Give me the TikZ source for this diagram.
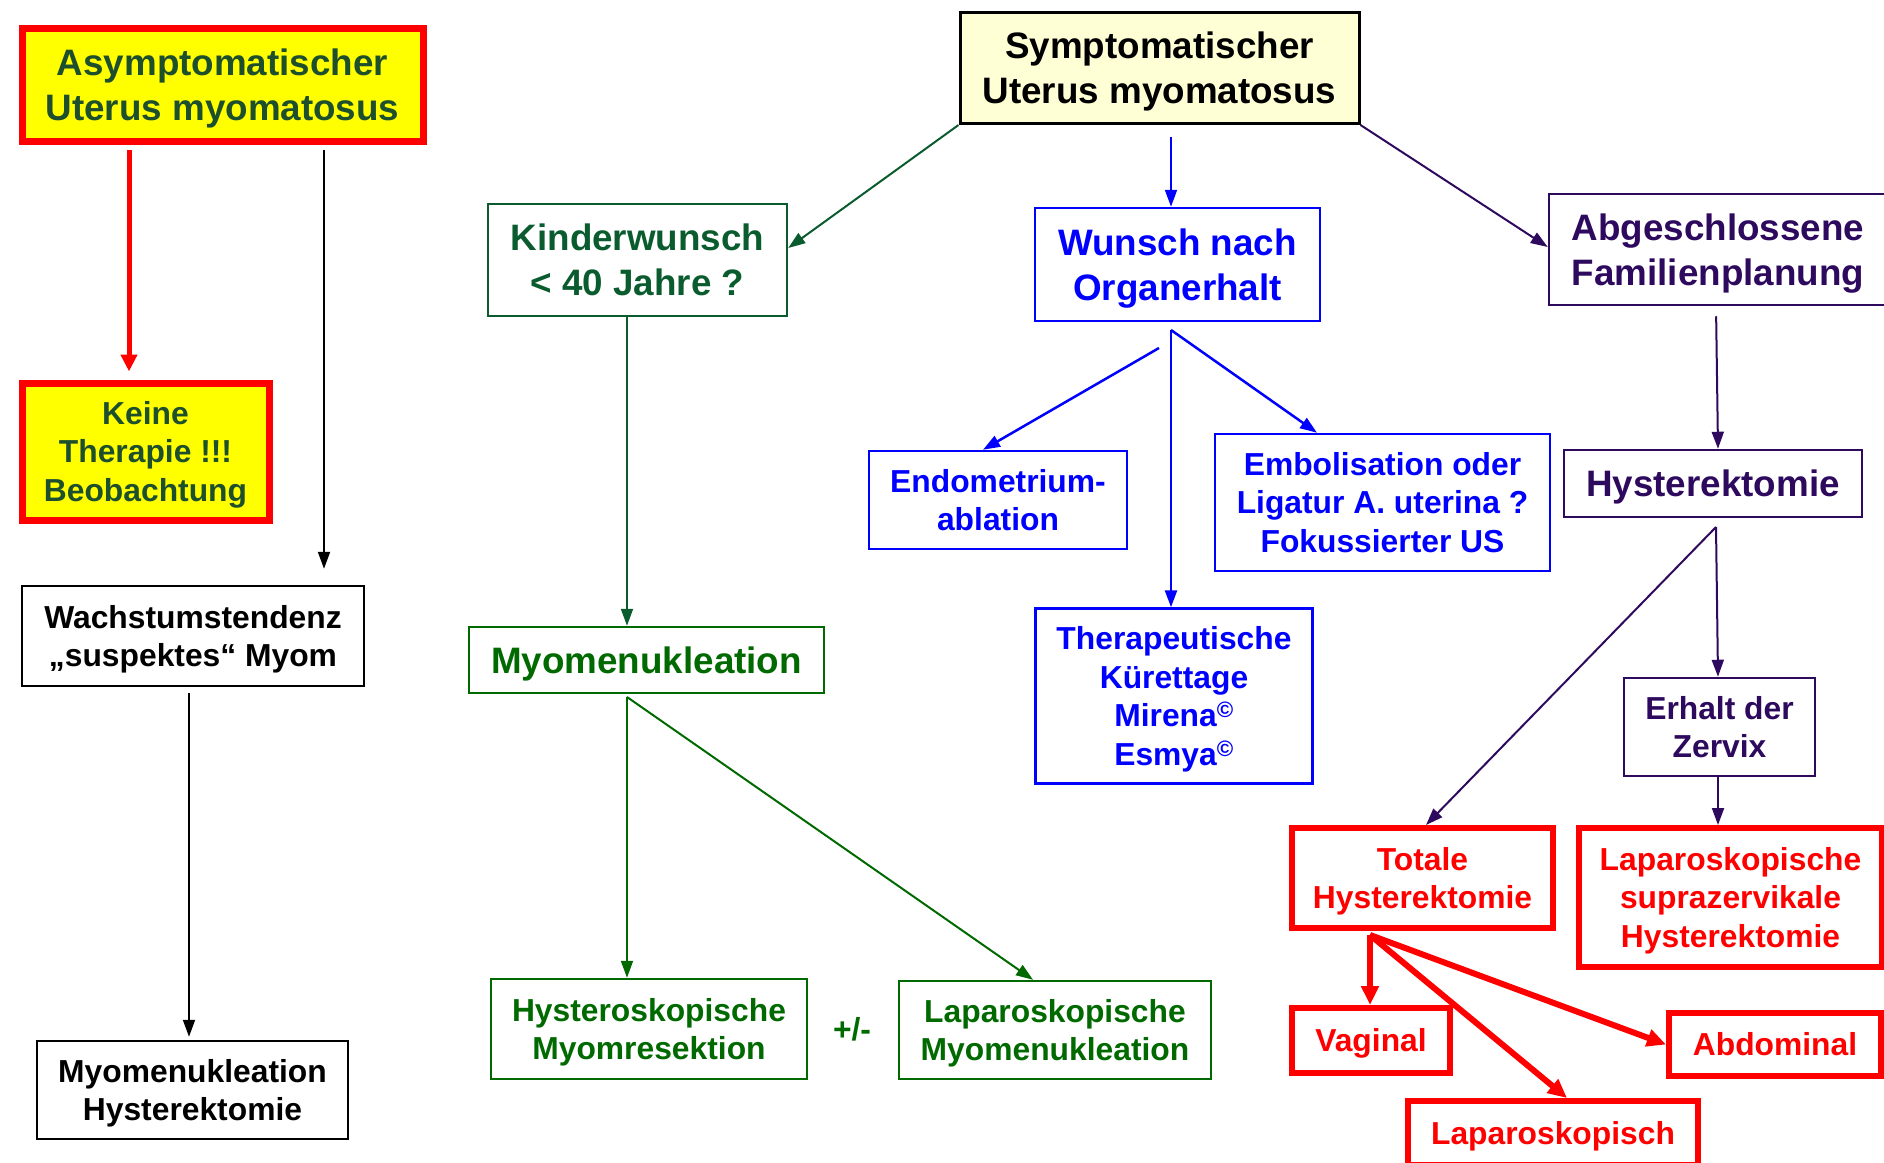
\documentclass[tikz,border=0pt]{standalone}
\usepackage{fontspec}
\setmainfont{Liberation Sans}
\usetikzlibrary{arrows.meta}
\definecolor{myred}{HTML}{FF0000}
\definecolor{myyellow}{HTML}{FFFF00}
\definecolor{asymgreen}{HTML}{1D4F2C}
\definecolor{kgreen}{HTML}{0A5C2E}
\definecolor{mgreen}{HTML}{006A00}
\definecolor{myblue}{HTML}{0000FF}
\definecolor{mypurple}{HTML}{2E0A5E}
\definecolor{lightyel}{HTML}{FFFFD5}
\newcommand\bigtxt{\fontsize{36.8}{45}\selectfont\bfseries}
\newcommand\smalltxt{\fontsize{31.8}{38.5}\selectfont\bfseries}
\newcommand\T{\rule{0pt}{0.93em}}
\newcommand\botstrut{\rule[-0.212em]{0pt}{0.212em}}
\tikzset{
  box/.style={draw, inner sep=0pt, align=center, font=\bigtxt, line width=2.5pt,
    execute at end node=\botstrut},
  smallbox/.style={box, font=\smalltxt},
  redbox/.style={smallbox, draw=myred, text=myred, line width=6pt},
  yelbox/.style={draw=myred, line width=7pt, fill=myyellow, text=asymgreen},
  greenA/.style={draw=kgreen, text=kgreen},
  greenB/.style={draw=mgreen, text=mgreen},
  bluebox/.style={draw=myblue, text=myblue},
  purplebox/.style={draw=mypurple, text=mypurple},
  arr/.style={-{Triangle[length=17pt,width=12pt]}, line width=2pt},
  thickarr/.style={-{Triangle[length=19pt,width=17pt]}, line width=6pt, draw=myred},
  mw/.style={minimum width=#1pt},
  mh/.style={minimum height=#1pt}
}
\begin{document}
\begin{tikzpicture}[x=1pt, y=-1pt]
\useasboundingbox (0,0) rectangle (1884,1162);

% left column
\node[box, yelbox, mw=401, mh=113] (asym) at (222.5,84.5) {\T Asymptomatischer\\Uterus myomatosus};
\node[smallbox, yelbox, mw=247, mh=137] (keine) at (145.5,451.5) {\T Keine\\Therapie !!!\\Beobachtung};
\node[smallbox, draw=black, mw=342, mh=100] (wachs) at (193,636) {\T Wachstumstendenz\\„suspektes“ Myom};
\node[smallbox, draw=black, mw=311, mh=98] (myhy) at (192.5,1090) {\T Myomenukleation\\Hysterektomie};

\coordinate (a1) at (129,150);
\draw[-{Triangle[length=17pt,width=16pt]}, line width=5pt, draw=myred, shorten >=8pt] (a1) -- (a1 |- keine.north);
\coordinate (a2) at (324,150);
\draw[arr, shorten >=16pt] (a2) -- (a2 |- wachs.north);
\coordinate (a3) at (189,693);
\draw[arr, shorten >=3pt] (a3) -- (a3 |- myhy.north);

% top
\node[box, draw=black, line width=3pt, fill=lightyel, mw=399, mh=111] (symp) at (1159.5,68) {\T Symptomatischer\\Uterus myomatosus};

% green branch
\node[box, greenA, mw=299, mh=112] (kinder) at (637.5,260) {\T Kinderwunsch\\< 40 Jahre ?};
\node[box, greenB, mw=355, mh=66] (myom) at (646.5,660) {\T Myomenukleation};
\node[smallbox, greenB, mw=316, mh=100] (hyst) at (649,1029) {\T Hysteroskopische\\Myomresektion};
\node[text=mgreen, font=\smalltxt, inner sep=0pt] (pm) at (852,1029) {+/-};
\node[smallbox, greenB, mw=312, mh=98] (lapm) at (1055,1030) {\T Laparoskopische\\Myomenukleation};

\draw[arr, kgreen] (symp.south west) -- ([yshift=12pt]kinder.east);
\draw[arr, kgreen] ([xshift=-10.5pt]kinder.south) -- ([xshift=-19.5pt]myom.north);
\coordinate (m0) at (627,697);
\draw[arr, mgreen] (m0) -- (m0 |- hyst.north);
\draw[arr, mgreen] (m0) -- ([xshift=-22pt]lapm.north);

% blue branch
\node[box, bluebox, mw=285, mh=113] (wunsch) at (1177.5,264.5) {\T Wunsch nach\\Organerhalt};
\node[smallbox, bluebox, mw=258, mh=98] (endo) at (998,500) {\T Endometrium-\\ablation};
\node[smallbox, bluebox, mw=335, mh=137] (embo) at (1382.5,502.5) {\T Embolisation oder\\Ligatur A. uterina ?\\Fokussierter US};
\node[smallbox, bluebox, mw=277, mh=175] (thera) at (1174,696) {\T Therapeutische\\Kürettage\\Mirena\textsuperscript{©}\\Esmya\textsuperscript{©}};

\draw[arr, myblue, shorten <=12pt] ([xshift=11.5pt]symp.south) -- ([xshift=-6.5pt]wunsch.north);
\coordinate (b0) at (1171,330);
\coordinate (b1) at (1159,348);
\draw[arr, myblue, line width=2.5pt] (b1) -- ([xshift=-15pt]endo.north);
\draw[arr, myblue, line width=2.5pt] (b0) -- (b0 |- thera.north);
\draw[arr, myblue, line width=2.5pt] (b0) -- ([xshift=-65.5pt]embo.north);

% purple branch and red results
\node[box, purplebox, mw=338, mh=111] (abge) at (1718,249.5) {\T Abgeschlossene\\Familienplanung};
\node[box, purplebox, mw=298, mh=67] (hyster) at (1713,483.5) {\T Hysterektomie};
\node[smallbox, purplebox, mw=191, mh=98] (erhalt) at (1719.5,727) {\T Erhalt der\\Zervix};
\node[redbox, mw=261, mh=100] (totale) at (1422.5,878) {\T Totale\\Hysterektomie};
\node[redbox, mw=303, mh=139] (supra) at (1730.5,897.5) {\T Laparoskopische\\suprazervikale\\Hysterektomie};
\node[redbox, mw=158, mh=65] (vag) at (1371,1040.5) {\T Vaginal};
\node[redbox, mw=290, mh=64] (lapa) at (1553,1133) {\T Laparoskopisch};
\node[redbox, mw=212, mh=63] (abdo) at (1775,1044.5) {\T Abdominal};

\draw[arr, mypurple] (symp.south east) -- ([yshift=2.5pt]abge.west);
\draw[arr, mypurple, shorten <=10pt] ([xshift=-2pt]abge.south) -- ([xshift=5pt]hyster.north);
\coordinate (p0) at (1716,527);
\draw[arr, mypurple] (p0) -- ([xshift=3.5pt]totale.north);
\draw[arr, mypurple] (p0) -- ([xshift=-1.5pt]erhalt.north);
\draw[arr, mypurple] ([xshift=-1.5pt]erhalt.south) -- ([xshift=-12.5pt]supra.north);

\coordinate (r0) at (1370,935);
\draw[thickarr] (r0) -- (r0 |- vag.north);
\draw[thickarr] (r0) -- ([xshift=14pt]lapa.north);
\draw[thickarr] (r0) -- (abdo.west);
\end{tikzpicture}
\end{document}
